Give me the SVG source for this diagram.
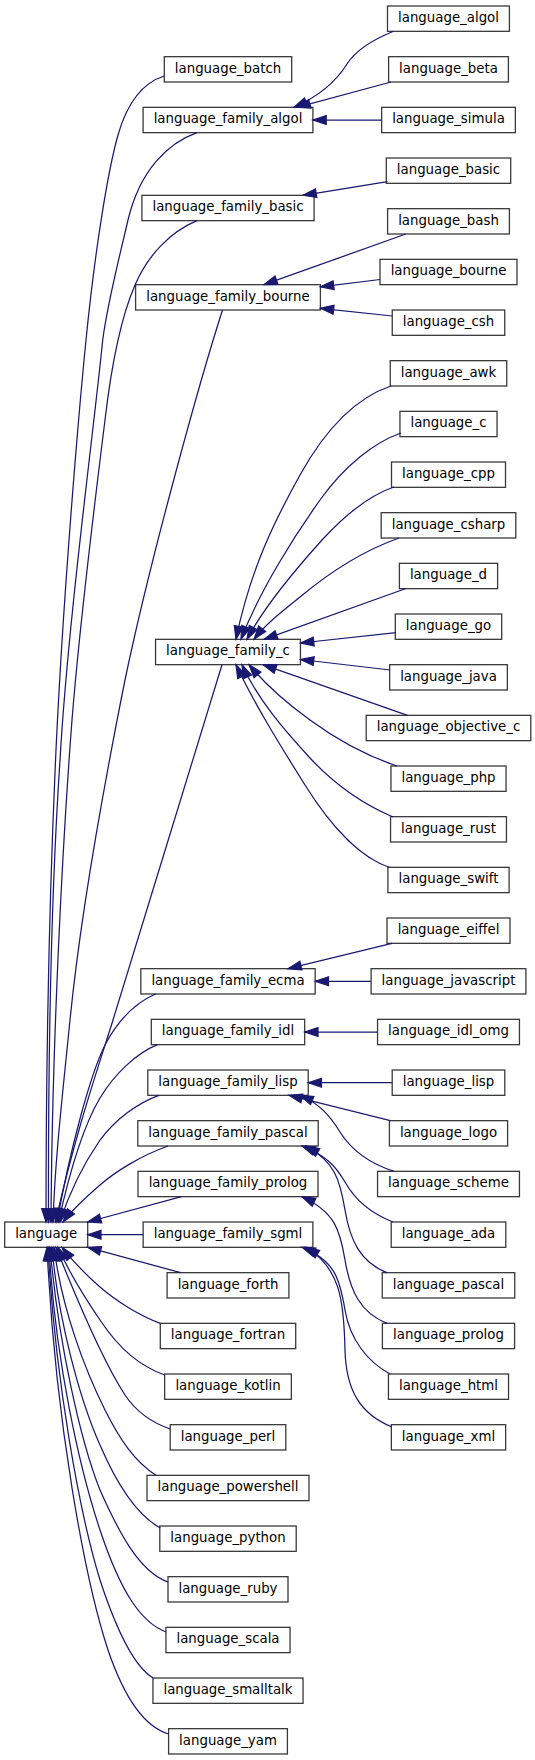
<svg xmlns="http://www.w3.org/2000/svg" width="535" height="1760" viewBox="0 0 535 1760">
<style>
.node rect{fill:#ffffff;stroke:#3a3a3a;stroke-width:1.3}
.node text{font-family:"DejaVu Sans","Liberation Sans",sans-serif;font-size:13.33px;fill:#000000;text-anchor:middle}
.edge{fill:none;stroke:#191970;stroke-width:1.25;marker-end:url(#arrow)}
</style>
<defs>
<marker id="arrow" markerUnits="userSpaceOnUse" viewBox="-1 -6 16 12" refX="13.3" refY="0" markerWidth="16" markerHeight="12" orient="auto" overflow="visible">
<path d="M0,-4.4 L13.3,0 L0,4.4 Z" fill="#191970" stroke="#191970" stroke-width="1.2"/>
</marker>
</defs>
<rect width="535" height="1760" fill="#ffffff"/>

<g id="node-language" class="node"><rect x="4.7" y="1222" width="83" height="25.33"/><text x="46.2" y="1238">language</text></g>

<g id="node-language_batch" class="node"><rect x="164.3" y="56.67" width="127.4" height="25.33"/><text x="228" y="72.67">language_batch</text></g>
<g id="node-language_family_algol" class="node"><rect x="143.1" y="107.33" width="169.8" height="25.33"/><text x="228" y="123.33">language_family_algol</text></g>
<g id="node-language_family_basic" class="node"><rect x="141.9" y="195.33" width="172.2" height="25.33"/><text x="228" y="211.33">language_family_basic</text></g>
<g id="node-language_family_bourne" class="node"><rect x="135.6" y="284.67" width="184.8" height="25.33"/><text x="228" y="300.67">language_family_bourne</text></g>
<g id="node-language_family_c" class="node"><rect x="155.55" y="639.33" width="144.9" height="25.33"/><text x="228" y="655.33">language_family_c</text></g>
<g id="node-language_family_ecma" class="node"><rect x="140.85" y="968.67" width="174.3" height="25.33"/><text x="228" y="984.67">language_family_ecma</text></g>
<g id="node-language_family_idl" class="node"><rect x="151.3" y="1019.33" width="153.4" height="25.33"/><text x="228" y="1035.33">language_family_idl</text></g>
<g id="node-language_family_lisp" class="node"><rect x="147.8" y="1070" width="160.4" height="25.33"/><text x="228" y="1086">language_family_lisp</text></g>
<g id="node-language_family_pascal" class="node"><rect x="137.8" y="1120.67" width="180.4" height="25.33"/><text x="228" y="1136.67">language_family_pascal</text></g>
<g id="node-language_family_prolog" class="node"><rect x="138" y="1171.33" width="180" height="25.33"/><text x="228" y="1187.33">language_family_prolog</text></g>
<g id="node-language_family_sgml" class="node"><rect x="143.15" y="1222" width="169.7" height="25.33"/><text x="228" y="1238">language_family_sgml</text></g>
<g id="node-language_forth" class="node"><rect x="167.1" y="1272.67" width="121.8" height="25.33"/><text x="228" y="1288.67">language_forth</text></g>
<g id="node-language_fortran" class="node"><rect x="160.3" y="1323.33" width="135.4" height="25.33"/><text x="228" y="1339.33">language_fortran</text></g>
<g id="node-language_kotlin" class="node"><rect x="164.65" y="1374" width="126.7" height="25.33"/><text x="228" y="1390">language_kotlin</text></g>
<g id="node-language_perl" class="node"><rect x="170.2" y="1424.67" width="115.6" height="25.33"/><text x="228" y="1440.67">language_perl</text></g>
<g id="node-language_powershell" class="node"><rect x="147" y="1475.33" width="162" height="25.33"/><text x="228" y="1491.33">language_powershell</text></g>
<g id="node-language_python" class="node"><rect x="159.8" y="1526" width="136.4" height="25.33"/><text x="228" y="1542">language_python</text></g>
<g id="node-language_ruby" class="node"><rect x="168" y="1576.67" width="120" height="25.33"/><text x="228" y="1592.67">language_ruby</text></g>
<g id="node-language_scala" class="node"><rect x="165.95" y="1627.33" width="124.1" height="25.33"/><text x="228" y="1643.33">language_scala</text></g>
<g id="node-language_smalltalk" class="node"><rect x="152.95" y="1678" width="150.1" height="25.33"/><text x="228" y="1694">language_smalltalk</text></g>
<g id="node-language_yam" class="node"><rect x="168.6" y="1728.67" width="118.8" height="25.33"/><text x="228" y="1744.67">language_yam</text></g>

<g id="node-language_algol" class="node"><rect x="387.5" y="6" width="121.9" height="25.33"/><text x="448.5" y="22">language_algol</text></g>
<g id="node-language_beta" class="node"><rect x="388.6" y="56.67" width="119.8" height="25.33"/><text x="448.5" y="72.67">language_beta</text></g>
<g id="node-language_simula" class="node"><rect x="381.65" y="107.33" width="133.7" height="25.33"/><text x="448.5" y="123.33">language_simula</text></g>
<g id="node-language_basic" class="node"><rect x="386.3" y="158" width="124.4" height="25.33"/><text x="448.5" y="174">language_basic</text></g>
<g id="node-language_bash" class="node"><rect x="387.6" y="208.67" width="121.8" height="25.33"/><text x="448.5" y="224.67">language_bash</text></g>
<g id="node-language_bourne" class="node"><rect x="380" y="259.33" width="137" height="25.33"/><text x="448.5" y="275.33">language_bourne</text></g>
<g id="node-language_csh" class="node"><rect x="392.25" y="310" width="112.5" height="25.33"/><text x="448.5" y="326">language_csh</text></g>
<g id="node-language_awk" class="node"><rect x="390.25" y="360.67" width="116.5" height="25.33"/><text x="448.5" y="376.67">language_awk</text></g>
<g id="node-language_c" class="node"><rect x="399.95" y="411.33" width="97.1" height="25.33"/><text x="448.5" y="427.33">language_c</text></g>
<g id="node-language_cpp" class="node"><rect x="391.5" y="462" width="114" height="25.33"/><text x="448.5" y="478">language_cpp</text></g>
<g id="node-language_csharp" class="node"><rect x="381.2" y="512.67" width="134.6" height="25.33"/><text x="448.5" y="528.67">language_csharp</text></g>
<g id="node-language_d" class="node"><rect x="399.4" y="563.33" width="98.2" height="25.33"/><text x="448.5" y="579.33">language_d</text></g>
<g id="node-language_go" class="node"><rect x="395.3" y="614" width="106.4" height="25.33"/><text x="448.5" y="630">language_go</text></g>
<g id="node-language_java" class="node"><rect x="389.65" y="664.67" width="117.7" height="25.33"/><text x="448.5" y="680.67">language_java</text></g>
<g id="node-language_objective_c" class="node"><rect x="366.2" y="715.33" width="164.6" height="25.33"/><text x="448.5" y="731.33">language_objective_c</text></g>
<g id="node-language_php" class="node"><rect x="390.95" y="766" width="115.1" height="25.33"/><text x="448.5" y="782">language_php</text></g>
<g id="node-language_rust" class="node"><rect x="390.55" y="816.67" width="115.9" height="25.33"/><text x="448.5" y="832.67">language_rust</text></g>
<g id="node-language_swift" class="node"><rect x="387.9" y="867.33" width="121.2" height="25.33"/><text x="448.5" y="883.33">language_swift</text></g>
<g id="node-language_eiffel" class="node"><rect x="387" y="918" width="123" height="25.33"/><text x="448.5" y="934">language_eiffel</text></g>
<g id="node-language_javascript" class="node"><rect x="371.1" y="968.67" width="154.8" height="25.33"/><text x="448.5" y="984.67">language_javascript</text></g>
<g id="node-language_idl_omg" class="node"><rect x="377.55" y="1019.33" width="141.9" height="25.33"/><text x="448.5" y="1035.33">language_idl_omg</text></g>
<g id="node-language_lisp" class="node"><rect x="392.2" y="1070" width="112.6" height="25.33"/><text x="448.5" y="1086">language_lisp</text></g>
<g id="node-language_logo" class="node"><rect x="389.4" y="1120.67" width="118.2" height="25.33"/><text x="448.5" y="1136.67">language_logo</text></g>
<g id="node-language_scheme" class="node"><rect x="377.55" y="1171.33" width="141.9" height="25.33"/><text x="448.5" y="1187.33">language_scheme</text></g>
<g id="node-language_ada" class="node"><rect x="391.2" y="1222" width="114.6" height="25.33"/><text x="448.5" y="1238">language_ada</text></g>
<g id="node-language_pascal" class="node"><rect x="382.25" y="1272.67" width="132.5" height="25.33"/><text x="448.5" y="1288.67">language_pascal</text></g>
<g id="node-language_prolog" class="node"><rect x="382.4" y="1323.33" width="132.2" height="25.33"/><text x="448.5" y="1339.33">language_prolog</text></g>
<g id="node-language_html" class="node"><rect x="388.45" y="1374" width="120.1" height="25.33"/><text x="448.5" y="1390">language_html</text></g>
<g id="node-language_xml" class="node"><rect x="391.35" y="1424.67" width="114.3" height="25.33"/><text x="448.5" y="1440.67">language_xml</text></g>

<g id="connectors">
<!-- into family_algol -->
<path class="edge" d="M393,31.5 C372,40 356,50 347,64 C337,80 322,95 294,107.3"/>
<path class="edge" d="M391,82 L297,107.3"/>
<path class="edge" d="M381.6,120 L312.9,120"/>
<!-- into family_basic -->
<path class="edge" d="M387.5,181.7 L303,195.3"/>
<!-- into family_bourne -->
<path class="edge" d="M405.8,234 L264,284.7"/>
<path class="edge" d="M380,279.5 L320.4,286.8"/>
<path class="edge" d="M392.2,316 L320.4,308.3"/>
<!-- into family_c -->
<path class="edge" d="M391,386 C355,398 325,430 300,475 C275,520 250,570 236,639.3"/>
<path class="edge" d="M401,433 C375,442 345,465 320,500 C295,535 260,590 241,639.3"/>
<path class="edge" d="M394,487 C370,495 345,515 322,540 C295,570 265,605 247,639.3"/>
<path class="edge" d="M399,538 C365,550 330,572 300,597 C280,613 265,625 254,639.3"/>
<path class="edge" d="M406,588.5 L264,639.3"/>
<path class="edge" d="M396,632.7 L300.5,643"/>
<path class="edge" d="M390,670 L300.5,659.5"/>
<path class="edge" d="M407.5,715.3 L263,664.7"/>
<path class="edge" d="M397,766 C370,757 340,742 310,720 C285,702 265,684 249,664.7"/>
<path class="edge" d="M393,817 C365,805 335,785 310,758 C285,731 258,700 242,664.7"/>
<path class="edge" d="M390,867.5 C360,858 330,825 305,785 C280,745 255,705 236,664.7"/>
<!-- into family_ecma -->
<path class="edge" d="M392,943.3 L288,968.7"/>
<path class="edge" d="M371.1,981.3 L315.2,981.3"/>
<!-- into family_idl -->
<path class="edge" d="M377.5,1032 L304.7,1032"/>
<!-- into family_lisp -->
<path class="edge" d="M392.2,1082.7 L308.2,1082.7"/>
<path class="edge" d="M390.4,1120.7 L289,1095.3"/>
<path class="edge" d="M394,1171.3 C365,1162 350,1148 340,1132 C330,1116 320,1104 300,1095.3"/>
<!-- into family_pascal -->
<path class="edge" d="M393,1222 C370,1213 355,1200 345,1182 C335,1165 325,1155 302,1146"/>
<path class="edge" d="M387,1272.7 C360,1262 350,1240 345,1210 C340,1180 335,1162 306,1146"/>
<!-- into family_prolog -->
<path class="edge" d="M387,1323.3 C360,1313 350,1290 345,1260 C340,1230 335,1212 302,1196.7"/>
<!-- into family_sgml -->
<path class="edge" d="M390,1374 C368,1362 350,1340 345,1310 C340,1280 335,1260 302,1247.3"/>
<path class="edge" d="M392,1427 C360,1414 346,1390 345,1350 C344,1300 340,1268 306,1247.3"/>
<!-- into language from above -->
<path class="edge" d="M164.3,76 C145,82 128,100 118,135 C108,170 95,250 86,340 C78,420 63,600 56,750 C50,880 46,1050 46,1222"/>
<path class="edge" d="M197,132.7 C168,143 140,170 128,220 C120,255 108,300 102.7,340 C95,420 68,620 60,760 C52,880 48,1050 48.5,1222"/>
<path class="edge" d="M197,220.7 C170,232 148,255 135,285 C122,315 112,360 105,420 C95,500 80,620 72,720 C62,850 52,1050 51,1222"/>
<path class="edge" d="M222.5,310 C200,380 150,560 125,680 C105,780 80,920 70,1020 C62,1100 55,1160 53,1222"/>
<path class="edge" d="M222,664.7 C185,785 150,900 113,1020 C100,1062 76,1130 55.5,1222"/>
<path class="edge" d="M156,993.8 C135,1003 118,1020 105,1045 C90,1075 70,1150 57,1222"/>
<path class="edge" d="M157.5,1044.7 C137,1053 115,1073 100,1098 C85,1123 70,1170 58.5,1222"/>
<path class="edge" d="M159,1095.3 C137,1103 115,1120 100,1140 C85,1162 70,1190 60,1222"/>
<path class="edge" d="M168,1146 C140,1156 115,1172 100,1185 C85,1198 72,1210 63,1222"/>
<!-- into language from the right -->
<path class="edge" d="M181.5,1196.7 L87.7,1222"/>
<path class="edge" d="M143.15,1234.7 L87.7,1234.7"/>
<path class="edge" d="M180.8,1272.7 L87.7,1247.3"/>
<!-- into language from below -->
<path class="edge" d="M160.3,1323.3 C138,1315 115,1300 100,1287 C85,1274 72,1260 62,1247.3"/>
<path class="edge" d="M164.65,1375 C140,1366 120,1350 100,1320 C85,1298 68,1270 58,1247.3"/>
<path class="edge" d="M170.2,1429 C150,1422 135,1410 125,1395 C110,1372 85,1320 56,1247.3"/>
<path class="edge" d="M156,1475.3 C135,1462 120,1440 105,1410 C85,1370 62,1310 54,1247.3"/>
<path class="edge" d="M160.3,1528 C135,1514 115,1480 100,1445 C80,1400 58,1320 52,1247.3"/>
<path class="edge" d="M168,1582 C140,1572 120,1535 100,1490 C80,1440 58,1340 50,1247.3"/>
<path class="edge" d="M166,1632 C140,1622 120,1590 100,1530 C80,1470 55,1360 49,1247.3"/>
<path class="edge" d="M153,1678 C135,1667 118,1635 100,1580 C80,1515 55,1380 48,1247.3"/>
<path class="edge" d="M168.6,1734 C145,1727 125,1700 108,1650 C85,1580 55,1420 47,1247.3"/>
</g>
</svg>
